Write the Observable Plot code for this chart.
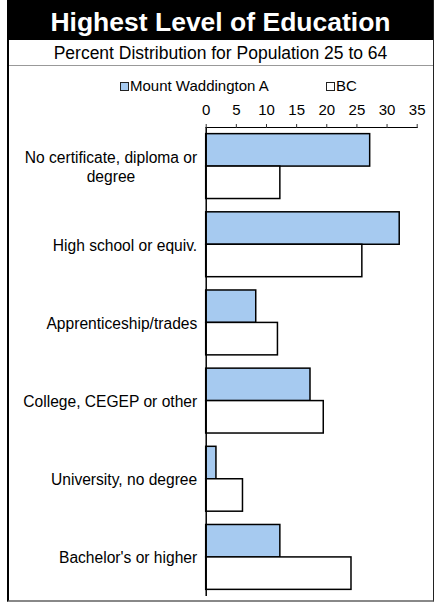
<!DOCTYPE html>
<html>
<head>
<meta charset="utf-8">
<script src="https://cdn.jsdelivr.net/npm/d3@7"></script>
<script src="https://cdn.jsdelivr.net/npm/@observablehq/plot@0.6"></script>
<style>
  html, body { margin: 0; padding: 0; background: #fff; }
  body { font-family: "Liberation Sans", Arial, sans-serif; }
  #wrap { position: relative; width: 435px; height: 603px; overflow: hidden; background: #fff; }
  #chart { position: absolute; left: 0; top: 65px; }
  #title { position: absolute; left: 7px; top: 0; width: 427px; height: 40px; background: #000; color: #fff;
           font-weight: bold; font-size: 26.5px; line-height: 44px; text-align: center; white-space: nowrap; }
  #subtitle { position: absolute; left: 7px; top: 40px; width: 427px; height: 25px; color: #000;
           font-size: 17.5px; line-height: 26px; text-align: center; white-space: nowrap; }
  #frame { position: absolute; left: 7px; top: 0; width: 427px; height: 602px; box-sizing: border-box;
           border-left: 2px solid #000; border-right: 1.5px solid #222; border-bottom: 2px solid #888; pointer-events: none; }
  #sep { position: absolute; left: 8px; top: 65px; width: 425px; height: 0; border-top: 1.5px solid #999; }
  .leg { position: absolute; top: 77px; font-size: 15px; line-height: 18px; color: #000; white-space: nowrap; }
  .sw { display: inline-block; width: 9px; height: 9px; box-sizing: border-box; border: 1.5px solid #222; vertical-align: 0px; margin-right: 1px; }
</style>
</head>
<body>
<div id="wrap">
  <div id="chart"></div>
  <div id="title"></div>
  <div id="subtitle"></div>
  <div id="sep"></div>
  <div id="legend"></div>
  <div id="frame"></div>
</div>
<script>
const titleText = "Highest Level of Education";
const subtitleText = "Percent Distribution for Population 25 to 64";
const categories = [
  "No certificate, diploma or\ndegree",
  "High school or equiv.",
  "Apprenticeship/trades",
  "College, CEGEP or other",
  "University, no degree",
  "Bachelor's or higher"
];
const seriesNames = ["Mount Waddington A", "BC"];
const seriesColors = ["#a6caf0", "#ffffff"];
const mountWaddington = [27.2, 32.1, 8.3, 17.3, 1.7, 12.3];
const bc = [12.3, 25.9, 11.9, 19.5, 6.1, 24.1];
const xTicks = [0, 5, 10, 15, 20, 25, 30, 35];

document.getElementById("title").textContent = titleText;
document.getElementById("subtitle").textContent = subtitleText;

// legend
const legend = document.getElementById("legend");
const legendLeft = [120, 326];
seriesNames.forEach((name, i) => {
  const d = document.createElement("div");
  d.className = "leg";
  d.style.left = legendLeft[i] + "px";
  const s = document.createElement("span");
  s.className = "sw";
  s.style.background = seriesColors[i];
  d.appendChild(s);
  d.appendChild(document.createTextNode(name));
  legend.appendChild(d);
});

const W = 435, H = 536, mT = 62, mB = 5, mL = 205.7, mR = 18.3;
const pInner = 0.17, pOuter = 0.085;

const bandScale = d3.scaleBand().domain(categories).range([mT, H - mB]).paddingInner(pInner).paddingOuter(pOuter);
const bw = bandScale.bandwidth();

const mwData = categories.map((c, i) => ({category: c, value: mountWaddington[i], series: seriesNames[0]}));
const bcData = categories.map((c, i) => ({category: c, value: bc[i], series: seriesNames[1]}));

const chart = Plot.plot({
  width: W,
  height: H,
  marginTop: mT,
  marginBottom: mB,
  marginLeft: mL,
  marginRight: mR,
  style: {fontFamily: "'Liberation Sans', Arial, sans-serif", fontSize: "15px", background: "transparent", color: "#000", overflow: "visible"},
  x: {domain: [0, 35], label: null},
  y: {type: "band", domain: categories, paddingInner: pInner, paddingOuter: pOuter, round: false, label: null},
  marks: [
    Plot.barX(mwData, {x: "value", y: "category", fill: seriesColors[0], stroke: "#000", strokeWidth: 1.5, insetBottom: bw / 2}),
    Plot.barX(bcData, {x: "value", y: "category", fill: seriesColors[1], stroke: "#000", strokeWidth: 1.5, insetTop: bw / 2}),
    Plot.ruleX([0], {stroke: "#000", strokeWidth: 1.5}),
    Plot.frame({anchor: "top", stroke: "#000", strokeWidth: 1}),
    Plot.axisX({anchor: "top", ticks: xTicks, tickSize: 4, tickPadding: 9, fontSize: 15, label: null, stroke: "#333"}),
    Plot.axisY({anchor: "left", tickSize: 0, tickPadding: 9, fontSize: 15.6, lineHeight: 1.2, label: null})
  ]
});
document.getElementById("chart").appendChild(chart);

// centre multi-line category labels (as the original does) while keeping right alignment of the block
const svg = chart.tagName === "svg" ? chart : chart.querySelector("svg");
svg.querySelectorAll('g[aria-label="y-axis tick label"] text').forEach(t => {
  const bb = t.getBBox();
  const cx = bb.x + bb.width / 2;
  t.setAttribute("text-anchor", "middle");
  const spans = t.querySelectorAll("tspan");
  if (spans.length) spans.forEach(s => s.setAttribute("x", cx));
  else t.setAttribute("x", cx);
});
</script>
</body>
</html>
